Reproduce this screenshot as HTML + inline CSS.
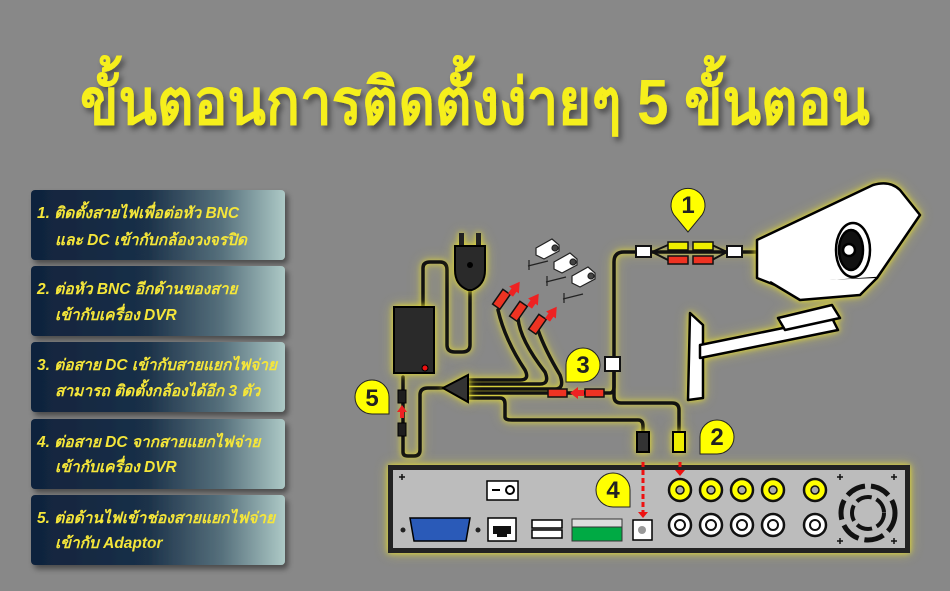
<!DOCTYPE html>
<html><head><meta charset="utf-8"><style>
html,body{margin:0;padding:0;background:#888;}
svg{display:block}
.t{font-family:"Liberation Sans","DejaVu Sans","Noto Sans CJK SC",sans-serif;}
.glow{filter:drop-shadow(0 0 3px rgba(235,225,40,.9)) drop-shadow(0 0 6px rgba(235,225,40,.4));}
</style></head><body>
<svg width="950" height="591" viewBox="0 0 950 591" xmlns="http://www.w3.org/2000/svg">
<defs>
<linearGradient id="pg" x1="0" x2="1" y1="0" y2="0">
<stop offset="0" stop-color="#10233d"/><stop offset="0.45" stop-color="#1a3048"/><stop offset="0.75" stop-color="#56707c"/><stop offset="1" stop-color="#adc9c6"/>
</linearGradient>
<filter id="sh" x="-10%" y="-10%" width="130%" height="140%"><feDropShadow dx="3" dy="4" stdDeviation="3" flood-color="#000" flood-opacity=".45"/></filter>
</defs>
<rect width="950" height="591" fill="#888"/>

<text class="t" x="80" y="124" font-size="64" font-weight="bold" fill="#f6ef1a" textLength="790" lengthAdjust="spacingAndGlyphs" filter="url(#sh)">ขั้นตอนการติดตั้งง่ายๆ 5 ขั้นตอน</text>

<!-- panels -->
<g font-size="15.5" font-weight="bold" font-style="italic" fill="#f5e63a" class="t">
<rect x="31" y="190" width="254" height="70" rx="4" fill="url(#pg)" filter="url(#sh)"/>
<text x="37" y="218">1. ติดตั้งสายไฟเพื่อต่อหัว BNC</text><text x="55" y="245">และ DC เข้ากับกล้องวงจรปิด</text>
<rect x="31" y="266" width="254" height="70" rx="4" fill="url(#pg)" filter="url(#sh)"/>
<text x="37" y="294">2. ต่อหัว BNC อีกด้านของสาย</text><text x="55" y="320">เข้ากับเครื่อง DVR</text>
<rect x="31" y="342" width="254" height="70" rx="4" fill="url(#pg)" filter="url(#sh)"/>
<text x="37" y="370">3. ต่อสาย DC เข้ากับสายแยกไฟจ่าย</text><text x="55" y="396">สามารถ ติดตั้งกล้องได้อีก 3 ตัว</text>
<rect x="31" y="419" width="254" height="70" rx="4" fill="url(#pg)" filter="url(#sh)"/>
<text x="37" y="447">4. ต่อสาย DC จากสายแยกไฟจ่าย</text><text x="55" y="472">เข้ากับเครื่อง DVR</text>
<rect x="31" y="495" width="254" height="70" rx="4" fill="url(#pg)" filter="url(#sh)"/>
<text x="37" y="523">5. ต่อด้านไฟเข้าช่องสายแยกไฟจ่าย</text><text x="55" y="548">เข้ากับ Adaptor</text>
</g>

<!-- wires -->
<g class="glow" fill="none" stroke="#111" stroke-width="3.5" stroke-linecap="round" stroke-linejoin="round">
<path d="M423 307 V268 Q423 262 430 262 H440 Q447 262 447 270 V345 Q447 352 455 352 H462 Q470 352 470 345 V290"/>
<path d="M403 377 V452 Q403 456 408 456 H414 Q420 456 420 450 V395 Q420 388 428 388 H443"/>
<path d="M468 380 H520 Q530 380 525 370 Q505 340 498 310"/>
<path d="M468 384 H540 Q550 384 545 372 Q520 340 518 318"/>
<path d="M468 389 H555 Q565 389 560 375 Q545 350 538 330"/>
<path d="M468 393 H610 Q614 393 614 386 V262 Q614 252 624 252 H735"/>
<path d="M468 398 H500 Q505 398 505 404 V417 Q505 420 512 420 H638 Q643 420 643 426 V432"/>
<path d="M614 370 V396 Q614 403 621 403 H672 Q679 403 679 410 V432"/>
<path d="M735 252 H760"/>
</g>
<g fill="none" stroke="#111" stroke-width="2">
<path d="M652 252 L668 245 M652 252 L668 260 M712 245 L727 252 M712 260 L727 252"/>
</g>
<!-- adapter -->
<rect x="394" y="307" width="40" height="66" fill="#2a2a2a" stroke="#000" stroke-width="2" class="glow"/>
<circle cx="425" cy="368" r="3" fill="#e11" stroke="#000"/>
<!-- plug -->
<g class="glow">
<rect x="459" y="233" width="5" height="14" fill="#222"/><rect x="476" y="233" width="5" height="14" fill="#222"/>
<path d="M455 246 H485 V270 Q485 285 472 290 H468 Q455 285 455 270 Z" fill="#2a2a2a" stroke="#000" stroke-width="2"/>
<circle cx="470" cy="265" r="3" fill="#000"/>
</g>
<!-- splitter -->
<path d="M443 388 L468 375 V402 Z" fill="#333" stroke="#000" stroke-width="2" class="glow"/>
<!-- red connectors -->
<g fill="#e32" stroke="#111" stroke-width="1.5">
<rect x="497" y="290" width="9" height="18" transform="rotate(35 501 299)"/>
<rect x="514" y="302" width="9" height="18" transform="rotate(35 518 311)"/>
<rect x="533" y="315" width="9" height="18" transform="rotate(35 537 324)"/>
<rect x="548" y="389" width="19" height="8"/><rect x="585" y="389" width="19" height="8"/>
<rect x="668" y="256" width="20" height="8"/><rect x="693" y="256" width="20" height="8"/>
</g>
<g fill="#1e1e1e" stroke="#000"><rect x="398" y="390" width="8" height="13"/><rect x="398" y="423" width="8" height="13"/></g>
<g fill="#ee0" stroke="#111" stroke-width="1.5"><rect x="668" y="242" width="20" height="8"/><rect x="693" y="242" width="20" height="8"/></g>
<g fill="#fff" stroke="#111" stroke-width="2"><rect x="636" y="246" width="15" height="11"/><rect x="727" y="246" width="15" height="11"/><rect x="605" y="357" width="15" height="14"/></g>
<!-- red arrows -->
<g fill="#e22">
<path d="M508 290 l6 -10 l6 10 h-3 v6 h-6 v-6z" transform="rotate(35 514 290)"/>
<path d="M527 302 l6 -10 l6 10 h-3 v6 h-6 v-6z" transform="rotate(35 533 302)"/>
<path d="M545 315 l6 -10 l6 10 h-3 v6 h-6 v-6z" transform="rotate(35 551 315)"/>
<path d="M570 393 l8 -6 v3 h6 v6 h-6 v3z"/>
<path d="M402 405 l-5 7 h3 v6 h4 v-6 h3z"/>
</g>
<!-- DC & BNC plugs -->
<rect x="637" y="432" width="12" height="20" fill="#333" stroke="#000" stroke-width="2" class="glow"/>
<rect x="673" y="432" width="12" height="20" fill="#ee0" stroke="#000" stroke-width="2" class="glow"/>
<!-- small cameras -->
<g fill="#fff" stroke="#222" stroke-width="1.2">
<path d="M536 248 l16 -9 l7 6 v6 l-15 8 l-8 -4z"/><circle cx="555" cy="248" r="3" fill="#444"/><path d="M528 266 l20 -5 M529 260 v10"/>
<path d="M554 262 l16 -9 l7 6 v6 l-15 8 l-8 -4z"/><circle cx="573" cy="262" r="3" fill="#444"/><path d="M546 282 l20 -5 M547 276 v10"/>
<path d="M572 276 l16 -9 l7 6 v6 l-15 8 l-8 -4z"/><circle cx="591" cy="276" r="3" fill="#444"/><path d="M563 299 l20 -5 M564 293 v10"/>
</g>
<!-- big camera -->
<g class="glow" stroke="#000" stroke-width="2.5" stroke-linejoin="round">
<path d="M690 313 L703 325 V398 L688 400 Z" fill="#fff"/>
<path d="M700 345 L832 318 L838 330 L700 358 Z" fill="#fff"/>
<path d="M778 318 L832 305 L840 318 L785 330 Z" fill="#fff"/>
<path d="M757 240 L873 185 Q890 180 900 190 L920 215 L877 278 L775 285 L757 278 Z" fill="#fff"/>
<path d="M770 282 L800 300 L860 295 L877 278" fill="#fff"/>
<ellipse cx="853" cy="250" rx="17" ry="27" fill="#fff"/>
<ellipse cx="851" cy="250" rx="12" ry="20" fill="#111"/>
<circle cx="849" cy="250" r="6" fill="#fff"/>
</g>
<!-- DVR -->
<g class="glow"><rect x="388" y="465" width="522" height="88" fill="#222"/></g>
<rect x="393" y="470" width="512" height="78" fill="#bcbcbc"/>
<g fill="#fff" stroke="#000" stroke-width="1.5">
<rect x="487" y="481" width="31" height="19"/>
<rect x="488" y="518" width="28" height="23"/>
<rect x="532" y="520" width="30" height="8"/><rect x="532" y="530" width="30" height="8"/>
<rect x="633" y="520" width="19" height="20"/>
</g>
<path d="M492 490 h8" stroke="#000" stroke-width="2"/><circle cx="510" cy="490" r="4" fill="none" stroke="#000" stroke-width="2"/>
<path d="M493 526 h18 v8 h-4 v3 h-10 v-3 h-4z" fill="#111"/>
<circle cx="642" cy="530" r="4" fill="#999"/>
<rect x="572" y="526" width="50" height="15" fill="#0a4" stroke="#333"/>
<rect x="572" y="519" width="50" height="8" fill="#ddd" stroke="#333"/>
<path d="M410 518 H470 L466 541 H414 Z" fill="#2a5ab8" stroke="#000" stroke-width="1.5"/>
<g fill="#222"><circle cx="403" cy="530" r="2.5"/><circle cx="478" cy="530" r="2.5"/></g>
<g fill="#ff0" stroke="#111" stroke-width="2.5">
<circle cx="680" cy="490" r="11"/><circle cx="711" cy="490" r="11"/><circle cx="742" cy="490" r="11"/><circle cx="773" cy="490" r="11"/><circle cx="815" cy="490" r="11"/>
</g>
<g fill="#aaa" stroke="#111" stroke-width="1.5">
<circle cx="680" cy="490" r="4"/><circle cx="711" cy="490" r="4"/><circle cx="742" cy="490" r="4"/><circle cx="773" cy="490" r="4"/><circle cx="815" cy="490" r="4"/>
</g>
<g fill="#fff" stroke="#111" stroke-width="2.5">
<circle cx="680" cy="525" r="11"/><circle cx="711" cy="525" r="11"/><circle cx="742" cy="525" r="11"/><circle cx="773" cy="525" r="11"/><circle cx="815" cy="525" r="11"/>
</g>
<g fill="#fff" stroke="#111" stroke-width="2">
<circle cx="680" cy="525" r="5"/><circle cx="711" cy="525" r="5"/><circle cx="742" cy="525" r="5"/><circle cx="773" cy="525" r="5"/><circle cx="815" cy="525" r="5"/>
</g>
<g fill="none" stroke="#111" stroke-width="5" stroke-dasharray="20 6"><circle cx="868" cy="513" r="27"/></g>
<g fill="none" stroke="#111" stroke-width="4" stroke-dasharray="16 5"><circle cx="868" cy="513" r="16"/></g>
<g stroke="#111" stroke-width="1.5">
<path d="M399 477 h6 M402 474 v6 M837 477 h6 M840 474 v6 M891 477 h6 M894 474 v6 M837 541 h6 M840 538 v6 M891 541 h6 M894 538 v6"/>
</g>
<!-- dashed red arrows -->
<g stroke="#e11" stroke-width="3" stroke-dasharray="5 3"><path d="M643 462 V512"/><path d="M680 462 V470"/></g>
<g fill="#e11"><path d="M638 512 h10 l-5 6z"/><path d="M675 470 h10 l-5 6z"/></g>
<!-- badges -->
<g fill="#ff0" stroke="#222" stroke-width="1">
<path d="M688 232 L674 215 A17 17 0 1 1 702 215 Z"/>
<path d="M700 454 L700 437 A17 17 0 1 1 717 454 Z"/>
<path d="M566 382 L566 365 A17 17 0 1 1 583 382 Z"/>
<path d="M630 507 L613 507 A17 17 0 1 1 630 490 Z"/>
<path d="M389 414 L372 414 A17 17 0 1 1 389 397 Z"/>
</g>
<g class="t" font-size="24" font-weight="bold" fill="#222" text-anchor="middle">
<text x="688" y="213">1</text><text x="717" y="445">2</text><text x="583" y="373">3</text><text x="613" y="498">4</text><text x="372" y="406">5</text>
</g>
</svg>
</body></html>
